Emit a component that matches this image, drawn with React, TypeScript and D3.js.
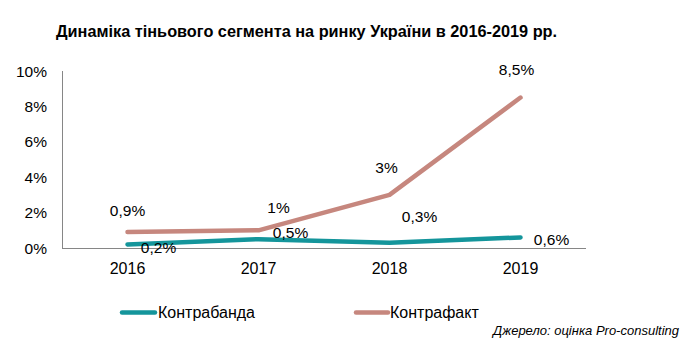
import React from "react";
import * as d3 from "d3";

const years = ["2016", "2017", "2018", "2019"];
const kontrabanda = [0.2, 0.5, 0.3, 0.6];
const kontrafakt = [0.9, 1, 3, 8.5];
const kontrabandaLabels = ["0,2%", "0,5%", "0,3%", "0,6%"];
const kontrafaktLabels = ["0,9%", "1%", "3%", "8,5%"];
const yTicks = [0, 2, 4, 6, 8, 10];
const seriesNames = ["Контрабанда", "Контрафакт"];

const W = 700;
const H = 357;
const TEAL = "#14959b";
const ROSE = "#c6877e";
const FONT = "'Liberation Sans', Arial, sans-serif";

export default function App() {
  const x = d3.scaleBand<string>().domain(years).range([62, 586]);
  const y = d3.scaleLinear().domain([0, 10]).range([248, 71]);
  const cx = (yr: string) => (x(yr) as number) + x.bandwidth() / 2;
  const line = d3
    .line<number>()
    .x((_, i) => cx(years[i]))
    .y((d) => y(d));

  // label offsets relative to point
  const fakDx = [0, 20, -3, -4];
  const fakDy = [-22, -23, -27, -28];
  const banDx = [31, 32, 30, 31];
  const banDy = [3, -7, -26, 2];

  return (
    <svg width={W} height={H} style={{ position: "absolute", left: 0, top: 0, background: "#fff" }}>
      <text x={56} y={37} fontFamily={FONT} fontWeight="bold" fontSize={16.3} fill="#000">
        Динаміка тіньового сегмента на ринку України в 2016-2019 рр.
      </text>
      {/* axes */}
      <line x1={62.5} x2={62.5} y1={71} y2={248.5} stroke="#868686" strokeWidth={1} />
      <line x1={62} x2={586} y1={248.5} y2={248.5} stroke="#868686" strokeWidth={1} />
      {yTicks.map((t) => (
        <text key={t} x={47} y={y(t) + 5.5} textAnchor="end" fontFamily={FONT} fontSize={15.5} fill="#000">
          {t}%
        </text>
      ))}
      {years.map((yr) => (
        <text key={yr} x={cx(yr)} y={274} textAnchor="middle" fontFamily={FONT} fontSize={16} fill="#000">
          {yr}
        </text>
      ))}
      <path d={line(kontrafakt) || ""} fill="none" stroke={ROSE} strokeWidth={4.5} strokeLinecap="round" strokeLinejoin="round" />
      <path d={line(kontrabanda) || ""} fill="none" stroke={TEAL} strokeWidth={4.5} strokeLinecap="round" strokeLinejoin="round" />
      {kontrafakt.map((v, i) => (
        <text key={"f" + i} x={cx(years[i]) + fakDx[i]} y={y(v) + fakDy[i] + 5.5} textAnchor="middle" fontFamily={FONT} fontSize={15.5} fill="#000">
          {kontrafaktLabels[i]}
        </text>
      ))}
      {kontrabanda.map((v, i) => (
        <text key={"b" + i} x={cx(years[i]) + banDx[i]} y={y(v) + banDy[i] + 5.5} textAnchor="middle" fontFamily={FONT} fontSize={15.5} fill="#000">
          {kontrabandaLabels[i]}
        </text>
      ))}
      {/* legend */}
      <line x1={122} x2={155} y1={312.5} y2={312.5} stroke={TEAL} strokeWidth={4.5} strokeLinecap="round" />
      <text x={158} y={318} fontFamily={FONT} fontSize={16} fill="#000">{seriesNames[0]}</text>
      <line x1={356} x2={388} y1={312.5} y2={312.5} stroke={ROSE} strokeWidth={4.5} strokeLinecap="round" />
      <text x={390} y={318} fontFamily={FONT} fontSize={16} fill="#000">{seriesNames[1]}</text>
      <text x={679} y={335} textAnchor="end" fontFamily={FONT} fontStyle="italic" fontSize={13} fill="#000">
        Джерело: оцінка Pro-consulting
      </text>
    </svg>
  );
}
